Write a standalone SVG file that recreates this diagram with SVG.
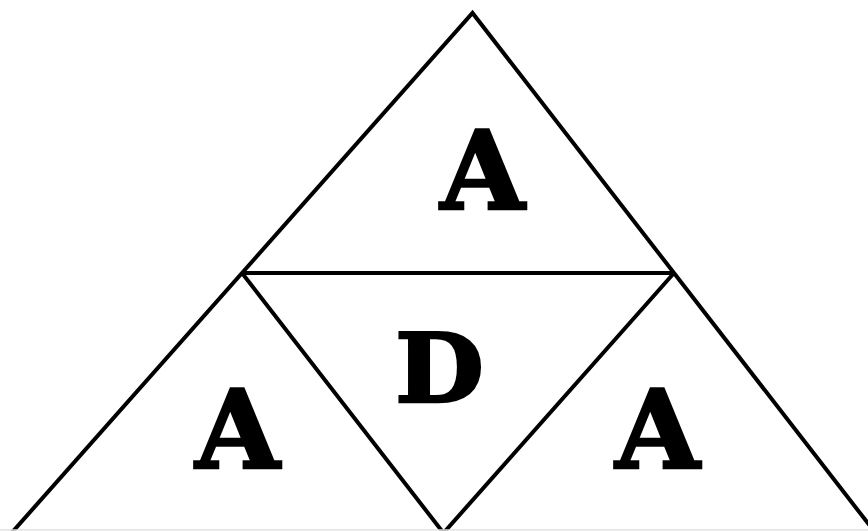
<svg xmlns="http://www.w3.org/2000/svg" width="868" height="531" viewBox="0 0 868 531">
<style>
.edge{stroke:#000;stroke-width:4;fill:none;stroke-linejoin:miter;stroke-linecap:butt}
.lbl{font-family:"DejaVu Serif",serif;font-weight:bold;fill:#000;stroke:#000;stroke-width:2.5;stroke-linejoin:miter;text-anchor:middle}
</style>
<rect x="0" y="0" width="868" height="531" fill="#fff"/>
<g id="connectors">
<path class="edge" d="M11.5,533 L472.5,13 L875.5,533"/>
<line class="edge" x1="242" y1="273" x2="674" y2="273"/>
<path class="edge" d="M242,273 L443.5,533 L674,273"/>
</g>
<line x1="0" y1="530" x2="868" y2="530" stroke="#ddd" stroke-width="1.5"/>
<rect x="0" y="530.7" width="868" height="1" fill="#fff"/>
<g id="top"><text class="lbl" x="482.5" y="209" font-size="109">A</text></g>
<g id="center"><text class="lbl" transform="translate(439.5,402) scale(1.08,1)" x="0" y="0" font-size="95">D</text></g>
<g id="left"><text class="lbl" x="237.5" y="468" font-size="109">A</text></g>
<g id="right"><text class="lbl" x="657.5" y="468" font-size="109">A</text></g>
</svg>
